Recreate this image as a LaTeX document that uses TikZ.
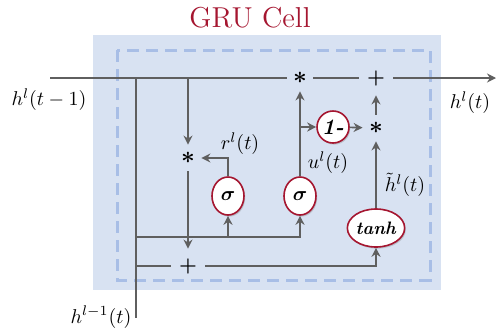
\documentclass[tikz,border=0pt]{standalone}
\usepackage{amsmath,amssymb,bm}
\usepackage{xcolor}
\usepackage{tikz}
\usetikzlibrary{arrows.meta,positioning,shapes.geometric,shadows}
\definecolor{gru_red}{RGB}{165,22,48}
\definecolor{gru_back}{RGB}{216,226,242}
\definecolor{gru_dash}{RGB}{168,190,230}
\definecolor{gru_wire}{RGB}{95,95,95}

\begin{document}
\begin{tikzpicture}[x=0.5pt, y=-0.5pt,
    wire/.style={draw=gru_wire, line width=0.8pt},
    flow/.style={wire, -{Stealth[length=4.5pt,width=4.5pt]}},
    gate/.style={ellipse, draw=gru_red, line width=0.8pt, fill=white, inner sep=0pt,
      minimum width=16pt, minimum height=19pt,
      drop shadow={opacity=0.35, shadow xshift=0.6pt, shadow yshift=-0.8pt}},
    op/.style={circle, inner sep=0pt, minimum size=13pt, font=\large},
    opadd/.style={op, minimum size=17pt, font=\normalsize}]
  % background and cell frame
  \useasboundingbox (0,0) rectangle (497,333);
  \fill[gru_back] (93,35) rectangle (441,290);
  \draw[gru_dash, line width=1.5pt, dash pattern=on 6pt off 3.5pt] (117,50) rectangle (430,280);
  \node[text=gru_red, font=\fontsize{14.4}{16}\selectfont] (title) at (250,18) {GRU Cell};

  % operators
  \node[op] (mulh) at (300,78) {$\boldsymbol{\ast}$};
  \node[opadd] (addh) at (376,78) {$\boldsymbol{+}$};
  \node[op] (mulr) at (188,158) {$\boldsymbol{\ast}$};
  \node[opadd] (addx) at (188,266) {$\boldsymbol{+}$};
  \node[op] (mulz) at (376,128) {$\boldsymbol{\ast}$};

  % gates
  \node[gate] (sigr) at (228,196) {$\bm{\sigma}$};
  \node[gate] (sigu) at (300,196) {$\bm{\sigma}$};
  \node[gate, circle, minimum size=16pt, font=\fontsize{11}{12}\selectfont] (inv) at (333,127) {\textbf{\textit{1-}}};
  \node[gate, minimum width=28pt, font=\small] (cand) at (376,228) {\textbf{\textit{tanh}}};

  % inputs and output
  \coordinate (hin) at (50,78);
  \coordinate (hout) at (496,78);
  \coordinate (xin) at (136,318);
  \coordinate (bus) at (136,237);
  \node (hinlabel) at (49,100) {$h^l(t-1)$};
  \node (houtlabel) at (470,103) {$h^l(t)$};
  \node (xinlabel) at (101,317) {$h^{l-1}(t)$};

  % wires
  \draw[wire] (hin) -- (mulh);
  \draw[wire] (mulh) -- (addh);
  \draw[flow] (addh) -- (hout);
  \draw[wire] (xin |- hin) -- (xin);
  \draw[flow] (mulr |- hin) -- (mulr);
  \draw[flow] (sigr) |- (mulr);
  \draw[flow] (mulr) -- (addx);
  \draw[flow] (bus) -| (sigu);
  \draw[flow] (sigr |- bus) -- (sigr);
  \draw[wire] (xin |- addx) -- (addx);
  \draw[flow] (addx) -| (cand);
  \draw[flow] (sigu) -- (mulh);
  \draw[flow] (sigu |- inv) -- (inv);
  \draw[flow] (inv) -- (mulz);
  \draw[flow] (mulz) -- (addh);
  \draw[flow] (cand) -- (mulz);

  % signal labels
  \node (rlabel) at (240,144) {$r^l(t)$};
  \node (ulabel) at (328,163) {$u^l(t)$};
  \node (clabel) at (405,185) {$\tilde{h}^l(t)$};
\end{tikzpicture}
\end{document}
